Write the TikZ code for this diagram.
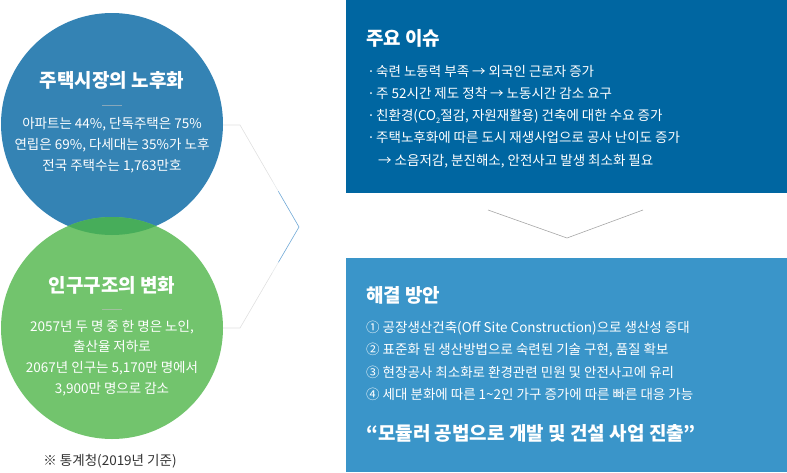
\documentclass[tikz,border=0pt]{standalone}
\usepackage{fontspec}
\setmainfont{Noto Sans CJK KR}
\usetikzlibrary{positioning,calc}
\definecolor{agedblue}{HTML}{3483B4}
\definecolor{popgreen}{HTML}{72C46D}
\definecolor{lensgreen}{HTML}{47AD5A}
\definecolor{issueblue}{HTML}{0066A1}
\definecolor{solblue}{HTML}{3A95C9}
\definecolor{linkblue}{HTML}{6FA8D6}

\begin{document}
\begin{tikzpicture}[x=1pt, y=-1pt,
  circ/.style={circle, minimum size=222pt, inner sep=0pt},
  panel/.style={anchor=north west, minimum width=441pt, inner sep=0pt},
  ttl/.style={anchor=west, text=white, inner sep=0pt,
    font=\fontsize{19}{21}\selectfont\bfseries},
  ctitle/.style={text=white, inner sep=0pt,
    font=\fontsize{19}{21}\selectfont\bfseries},
  cbody/.style={text=white, align=center, inner sep=0pt,
    font=\fontsize{13.5}{20.7}\selectfont},
  lines/.style={anchor=north west, text=white, align=left, inner sep=0pt,
    font=\fontsize{13.5}{22.2}\selectfont},
  rule/.style={white!75!black, opacity=0.6, line width=0.5pt},
  link/.style={line width=0.6pt},
  chev/.style={gray!70, line width=0.6pt}]
  \useasboundingbox (0,0) rectangle (787,472);

  % circles on the left
  \node[circ, fill=agedblue] (aging) at (112,124) {};
  \node[circ, fill=popgreen] (pop) at (112,328) {};
  \begin{scope}
    \clip (112,124) circle[radius=111pt];
    \fill[lensgreen] (112,328) circle[radius=111pt];
  \end{scope}

  \node[ctitle] (agingT) at (112,80) {주택시장의 노후화};
  \draw[rule] (102,105) -- (122,105);
  \node[cbody] (agingB) at (112,145) {아파트는 44\%, 단독주택은 75\%\\
    연립은 69\%, 다세대는 35\%가 노후\\전국 주택수는 1,763만호};

  \node[ctitle] (popT) at (112,285) {인구구조의 변화};
  \draw[rule] (102,309) -- (122,309);
  \node[cbody] (popB) at (112,358) {2057년 두 명 중 한 명은 노인,\\
    출산율 저하로\\2067년 인구는 5,170만 명에서\\3,900만 명으로 감소};

  \node[text=black!80, inner sep=0pt, font=\fontsize{13.5}{15}\selectfont]
    (src) at (110,461) {※ 통계청(2019년 기준)};

  % connector between circles
  \coordinate (kneeA) at (240,125);
  \coordinate (apex) at (299,227);
  \coordinate (kneeB) at (240,328);
  \draw[link, black!12] (aging.east |- kneeA) -- (kneeA) -- ($(kneeA)!0.55!(apex)$);
  \draw[link, linkblue!45!black!12] ($(kneeA)!0.55!(apex)$) -- ($(kneeA)!0.65!(apex)$);
  \draw[link, linkblue] ($(kneeA)!0.65!(apex)$) -- (apex) -- ($(apex)!0.35!(kneeB)$);
  \draw[link, linkblue!45!black!12] ($(apex)!0.35!(kneeB)$) -- ($(apex)!0.45!(kneeB)$);
  \draw[link, black!12] ($(apex)!0.45!(kneeB)$) -- (kneeB) -- (pop.east |- kneeB);

  % issues panel
  \node[panel, fill=issueblue, minimum height=193pt] (issues) at (346,0) {};
  \node[ttl] (issuesT) at (366,38) {주요 이슈};
  \node[lines] (issuesL) at (366,65) {%
    \makebox[10pt][c]{·}숙련 노동력 부족 → 외국인 근로자 증가\\
    \makebox[10pt][c]{·}주 52시간 제도 정착 → 노동시간 감소 요구\\
    \makebox[10pt][c]{·}친환경(CO\raisebox{-0.35ex}{\fontsize{7.5}{7.5}\selectfont 2}절감, 자원재활용) 건축에 대한 수요 증가\\
    \makebox[10pt][c]{·}주택노후화에 따른 도시 재생사업으로 공사 난이도 증가\\
    \hspace*{12pt}→ 소음저감, 분진해소, 안전사고 발생 최소화 필요};

  % chevron
  \coordinate (chevL) at (488,210);
  \coordinate (chevTip) at (567,238);
  \coordinate (chevR) at (643,210);
  \draw[chev] (chevL) -- (chevTip) -- (chevR);

  % solutions panel
  \node[panel, fill=solblue, minimum height=214pt] (sol) at (346,258) {};
  \node[ttl] (solT) at (366,295) {해결 방안};
  \node[lines] (solL) at (366,321) {%
    ① 공장생산건축(Off Site Construction)으로 생산성 증대\\
    ② 표준화 된 생산방법으로 숙련된 기술 구현, 품질 확보\\
    ③ 현장공사 최소화로 환경관련 민원 및 안전사고에 유리\\
    ④ 세대 분화에 따른 1\textasciitilde 2인 가구 증가에 따른 빠른 대응 가능};
  \node[ttl] (solQ) at (366,433)
    {“모듈러 공법으로 개발 및 건설 사업 진출”};
\end{tikzpicture}
\end{document}
